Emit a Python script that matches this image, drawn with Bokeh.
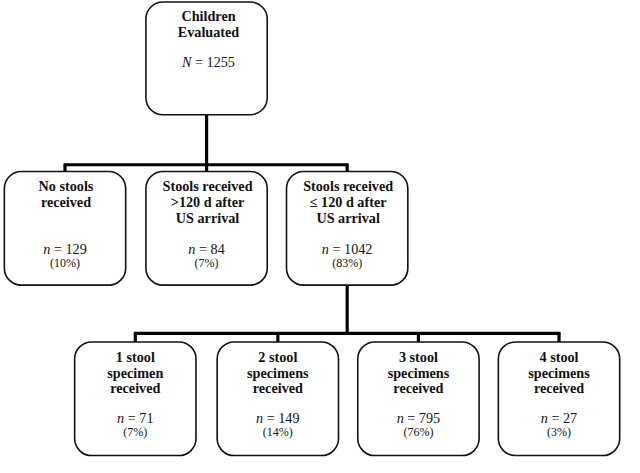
from bokeh.plotting import figure
from bokeh.models import Range1d, ColumnDataSource
from bokeh.core.properties import value
from bokeh.embed import file_html
from bokeh.resources import INLINE

# ---------------- data ----------------
root_label = ["Children", "Evaluated"]
root_n = 1255
arrival_labels = [["No stools", "received"],
                  ["Stools received", ">120 d after", "US arrival"],
                  ["Stools received", "\u2264 120 d after", "US arrival"]]
arrival_n = [129, 84, 1042]
arrival_pct = [10, 7, 83]
specimen_labels = [["1 stool", "specimen", "received"],
                   ["2 stool", "specimens", "received"],
                   ["3 stool", "specimens", "received"],
                   ["4 stool", "specimens", "received"]]
specimen_n = [71, 149, 795, 27]
specimen_pct = [7, 14, 76, 3]

# ---------------- layout (image-pixel space) ----------------
H = 473
W_FIG, H_FIG = 624, 457
X0, X1 = -4, 644
SC = W_FIG / (X1 - X0)  # screen px per data unit
FONT = "Liberation Serif"
FS = 14.2
FS_PCT = 12
BOX_W = 126


def Y(y):
    return H - y


root_box = dict(left=147, right=273, top=1, bottom=118)
tier2_left = [0, 147, 293]
tier2_top, tier2_bottom = 177, 295
tier3_left = [73, 221, 367, 513]
tier3_top, tier3_bottom = 354, 472

p = figure(width=W_FIG, height=H_FIG, output_backend="svg", toolbar_location=None,
           x_range=Range1d(X0, X1), y_range=Range1d(Y(474), Y(-0.6)),
           min_border=0)
p.axis.visible = False
p.grid.visible = False
p.outline_line_color = None
p.background_fill_color = "white"
p.border_fill_color = "white"

# ---------- connectors ----------
root_cx = (root_box["left"] + root_box["right"]) / 2
t2_cx = [l + BOX_W / 2 for l in tier2_left]
t3_cx = [l + BOX_W / 2 for l in tier3_left]
bar2_y = 170
bar3_y = 345
seg = dict(x0=[], y0=[], x1=[], y1=[])


def add(x0, y0, x1, y1):
    seg["x0"].append(x0); seg["y0"].append(Y(y0))
    seg["x1"].append(x1); seg["y1"].append(Y(y1))


add(root_cx, root_box["bottom"], root_cx, bar2_y)
add(min(t2_cx) - 1.5, bar2_y, max(t2_cx) + 1.5, bar2_y)
for cx in t2_cx:
    add(cx, bar2_y, cx, tier2_top)
add(t2_cx[2], tier2_bottom, t2_cx[2], bar3_y)
add(min(t3_cx) - 1.5, bar3_y, max(t3_cx) + 1.5, bar3_y)
for cx in t3_cx:
    add(cx, bar3_y, cx, tier3_top)
p.segment(x0="x0", y0="y0", x1="x1", y1="y1", source=ColumnDataSource(seg),
          line_color="black", line_width=3.2)

# ---------- boxes ----------
boxes = dict(left=[root_box["left"]], right=[root_box["right"]],
             top=[Y(root_box["top"])], bottom=[Y(root_box["bottom"])])
for l in tier2_left:
    boxes["left"].append(l); boxes["right"].append(l + BOX_W)
    boxes["top"].append(Y(tier2_top)); boxes["bottom"].append(Y(tier2_bottom))
for l in tier3_left:
    boxes["left"].append(l); boxes["right"].append(l + BOX_W)
    boxes["top"].append(Y(tier3_top)); boxes["bottom"].append(Y(tier3_bottom))
p.quad(left="left", right="right", top="top", bottom="bottom",
       source=ColumnDataSource(boxes), fill_color="white",
       line_color="#111111", line_width=1.6, border_radius=17)

# ---------- texts ----------
bold = dict(x=[], y=[], t=[])
ital = dict(x=[], y=[], t=[])
reg = dict(x=[], y=[], t=[])
pct = dict(x=[], y=[], t=[])


def title(cx, y0, step, lines):
    for i, s in enumerate(lines):
        bold["x"].append(cx); bold["y"].append(Y(y0 + i * step)); bold["t"].append(s)


def count(cx, y, letter, n):
    rest = "= " + str(n)
    w_letter = (0.667 if letter == "N" else 0.5) * FS
    w_space = 0.25 * FS
    w_rest = (0.564 + 0.25 + 0.5 * len(str(n))) * FS
    total = (w_letter + w_space + w_rest) / SC
    start = cx - total / 2
    ital["x"].append(start); ital["y"].append(Y(y)); ital["t"].append(letter)
    reg["x"].append(start + (w_letter + w_space) / SC); reg["y"].append(Y(y)); reg["t"].append(rest)


def percent(cx, y, v):
    pct["x"].append(cx); pct["y"].append(Y(y)); pct["t"].append("(%d%%)" % v)


title(root_cx + 2, 16, 16.5, root_label)
count(root_cx + 2, 63, "N", root_n)

for cx, lab, n, pc in zip(t2_cx, arrival_labels, arrival_n, arrival_pct):
    title(cx + 1, 192, 16.5, lab)
    count(cx, 257, "n", n)
    percent(cx, 272, pc)

for cx, lab, n, pc in zip(t3_cx, specimen_labels, specimen_n, specimen_pct):
    title(cx, 370, 16, lab)
    count(cx, 433, "n", n)
    percent(cx, 448, pc)

common = dict(text_font=value(FONT), text_baseline="middle", text_color="#111111")
p.text(x="x", y="y", text="t", source=ColumnDataSource(bold), text_align="center",
       text_font_size=f"{FS}px", text_font_style="bold", **common)
p.text(x="x", y="y", text="t", source=ColumnDataSource(ital), text_align="left",
       text_font_size=f"{FS}px", text_font_style="italic", **common)
p.text(x="x", y="y", text="t", source=ColumnDataSource(reg), text_align="left",
       text_font_size=f"{FS}px", **common)
p.text(x="x", y="y", text="t", source=ColumnDataSource(pct), text_align="center",
       text_font_size=f"{FS_PCT}px", **common)

open("out.html", "w").write(file_html(p, INLINE))
